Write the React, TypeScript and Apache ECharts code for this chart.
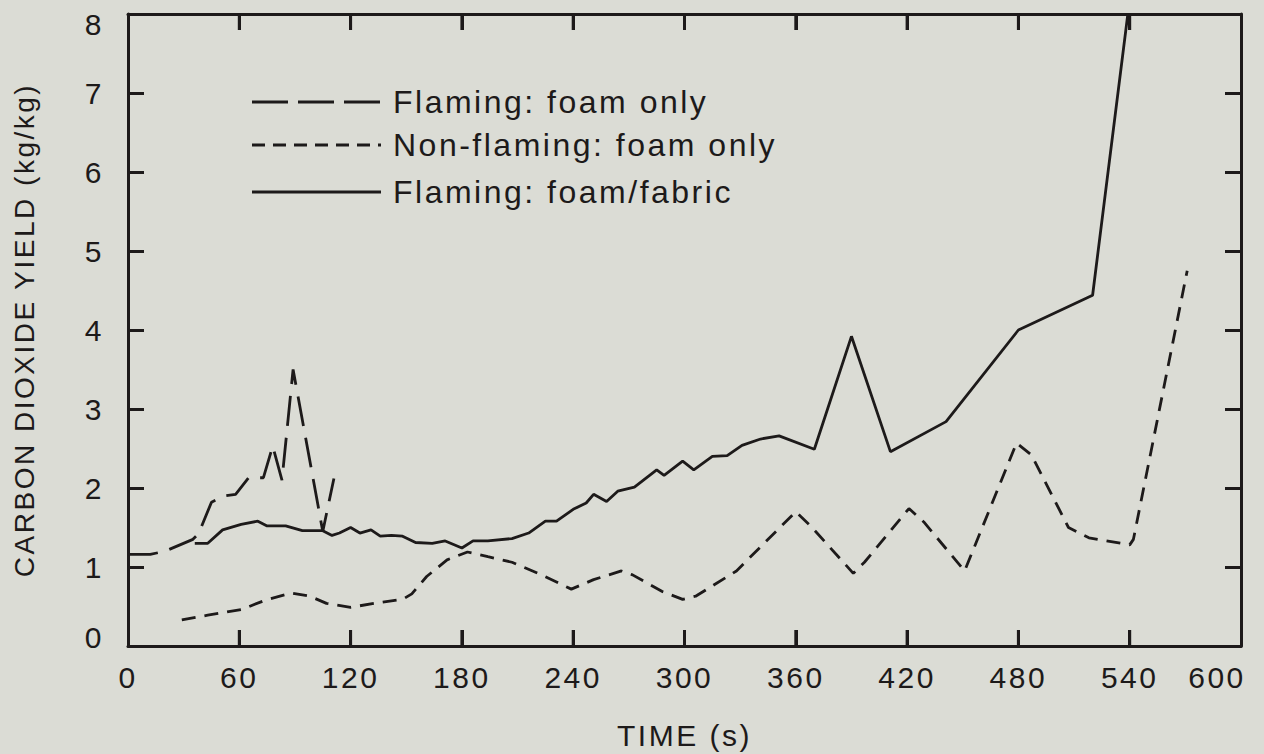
import React, { useEffect, useRef } from "react";
import * as echarts from "echarts";

const flamingFoamT = [0, 12, 20, 35, 38, 45, 52, 58, 65, 73, 78, 83, 89, 105, 111];
const flamingFoamV = [1.16, 1.16, 1.2, 1.35, 1.42, 1.82, 1.9, 1.92, 2.13, 2.13, 2.53, 2.1, 3.5, 1.45, 2.12];

const nonFlamingT = [29, 43, 61, 74, 88, 98, 107, 120, 133, 148, 153, 161, 172, 183, 194, 207, 223, 239, 251, 266, 272, 288, 299, 306, 328, 360, 368, 391, 397, 421, 429, 451, 479, 487, 507, 518, 540, 542, 571];
const nonFlamingV = [0.33, 0.39, 0.46, 0.58, 0.67, 0.63, 0.54, 0.49, 0.54, 0.59, 0.66, 0.88, 1.09, 1.19, 1.13, 1.06, 0.9, 0.72, 0.84, 0.95, 0.9, 0.69, 0.59, 0.63, 0.95, 1.7, 1.52, 0.92, 1.06, 1.74, 1.57, 0.95, 2.57, 2.42, 1.5, 1.37, 1.28, 1.35, 4.75];

const fabricT = [36, 43, 51, 61, 70, 75, 85, 94, 105, 110, 114, 120, 125, 131, 136, 142, 148, 155, 164, 171, 180, 186, 194, 207, 216, 225, 231, 240, 247, 251, 258, 264, 273, 285, 289, 299, 305, 315, 323, 331, 341, 351, 370, 390, 411, 441, 480, 520, 539];
const fabricV = [1.3, 1.3, 1.47, 1.54, 1.58, 1.52, 1.52, 1.46, 1.46, 1.4, 1.43, 1.5, 1.43, 1.47, 1.39, 1.4, 1.39, 1.31, 1.3, 1.33, 1.24, 1.33, 1.33, 1.36, 1.43, 1.58, 1.58, 1.73, 1.81, 1.92, 1.83, 1.96, 2.01, 2.23, 2.16, 2.34, 2.23, 2.4, 2.41, 2.54, 2.62, 2.66, 2.49, 3.92, 2.46, 2.84, 4.0, 4.44, 8.0];

const legendNames = ["Flaming: foam only", "Non-flaming: foam only", "Flaming: foam/fabric"];

const X_MIN = 0, X_MAX = 600, X_STEP = 60;
const Y_MIN = 0, Y_MAX = 8, Y_STEP = 1;
// inner x tick positions (s), drawn on both bottom and top frame edges
const xTickValues = [60, 120, 180, 240, 300, 360, 420, 480, 540];

const INK = "#1d1a1a";
const BG = "#dbdcd5";
const FONT = "'Liberation Sans', Arial, sans-serif";
const TICK_LEN = 16;

const zip = (t: number[], v: number[]) => t.map((x, i) => [x, v[i]]);

const mkTick = () => ({ show: true, inside: true, length: TICK_LEN, lineStyle: { color: INK, width: 3 } });
const mkLine = () => ({ show: true, onZero: false, lineStyle: { color: INK, width: 3 } });
const mkGrid = () => ({ left: 128, right: 23, top: 14, bottom: 108, outerBoundsMode: "none" });

export default function App() {
  const ref = useRef<HTMLDivElement>(null);
  useEffect(() => {
    if (!ref.current) return;
    const chart = echarts.init(ref.current, null, { renderer: "svg" });
    const labelBase = { fontSize: 30, fontFamily: FONT, color: INK };
    const legendY = [102, 145, 192];
    const dashes: any[] = [[36, 10], [13, 8], null];
    const graphics: any[] = [];
    legendNames.forEach((n, i) => {
      graphics.push({
        type: "line",
        shape: { x1: 252, y1: legendY[i], x2: 381, y2: legendY[i] },
        style: { stroke: INK, lineWidth: 2.8, lineDash: dashes[i] },
      });
      graphics.push({
        type: "text",
        x: 393,
        y: legendY[i],
        style: { text: n, fontSize: 32, fontFamily: FONT, fill: INK, verticalAlign: "middle" },
      });
    });
    chart.setOption({
      animation: false,
      grid: [mkGrid(), mkGrid()],
      xAxis: [
        {
          gridIndex: 0,
          type: "value",
          min: X_MIN,
          max: X_MAX,
          interval: X_STEP,
          position: "bottom",
          axisLine: mkLine(),
          axisTick: mkTick(),
          splitLine: { show: false },
          axisLabel: {
            ...labelBase,
            margin: 16,
            formatter: (v: number) => (v === 600 ? "{r|600}" : String(v)),
            rich: { r: { ...labelBase, padding: [0, 48, 0, 0] } },
          },
          name: "TIME (s)",
          nameLocation: "middle",
          nameGap: 74,
          nameTextStyle: { fontSize: 30, fontFamily: FONT, color: INK },
        },
        {
          gridIndex: 1,
          type: "value",
          min: X_MIN,
          max: X_MAX,
          interval: X_STEP,
          position: "top",
          axisLine: mkLine(),
          axisTick: mkTick(),
          axisLabel: { show: false },
          splitLine: { show: false },
        },
      ],
      yAxis: [
        {
          gridIndex: 0,
          type: "value",
          min: Y_MIN,
          max: Y_MAX,
          interval: Y_STEP,
          position: "left",
          axisLine: mkLine(),
          axisTick: mkTick(),
          splitLine: { show: false },
          axisLabel: {
            ...labelBase,
            margin: 24,
            formatter: (v: number) => (v === 8 ? "{a|8}" : v === 0 ? "{b|0}" : String(v)),
            rich: {
              a: { ...labelBase, padding: [20, 0, 0, 0] },
              b: { ...labelBase, padding: [0, 0, 18, 0] },
            },
          },
          name: "CARBON DIOXIDE YIELD (kg/kg)",
          nameLocation: "middle",
          nameRotate: 90,
          nameGap: 90,
          nameTextStyle: { fontSize: 28, fontFamily: FONT, color: INK },
        },
        {
          gridIndex: 1,
          type: "value",
          min: Y_MIN,
          max: Y_MAX,
          interval: Y_STEP,
          position: "right",
          axisLine: mkLine(),
          axisTick: mkTick(),
          axisLabel: { show: false },
          splitLine: { show: false },
        },
      ],
      series: [
        {
          name: legendNames[0],
          type: "line",
          xAxisIndex: 0,
          yAxisIndex: 0,
          data: zip(flamingFoamT, flamingFoamV),
          showSymbol: false,
          lineStyle: { color: INK, width: 2.8, type: [30, 12] },
        },
        {
          name: legendNames[1],
          type: "line",
          xAxisIndex: 0,
          yAxisIndex: 0,
          data: zip(nonFlamingT, nonFlamingV),
          showSymbol: false,
          lineStyle: { color: INK, width: 2.8, type: [14, 9] },
        },
        {
          name: legendNames[2],
          type: "line",
          xAxisIndex: 0,
          yAxisIndex: 0,
          data: zip(fabricT, fabricV),
          showSymbol: false,
          lineStyle: { color: INK, width: 2.8, type: "solid" },
        },
        {
          name: "frame ticks",
          type: "custom",
          xAxisIndex: 0,
          yAxisIndex: 0,
          silent: true,
          clip: false,
          z: 10,
          data: xTickValues.map((v) => [v, Y_MIN]),
          encode: { x: 0, y: 1 },
          renderItem: (params: any, api: any) => {
            const v = api.value(0);
            const b = api.coord([v, Y_MIN]);
            const t = api.coord([v, Y_MAX]);
            return {
              type: "group",
              children: [
                {
                  type: "rect",
                  shape: { x: b[0] - 1.5, y: b[1] - TICK_LEN, width: 3, height: TICK_LEN },
                  style: { fill: INK },
                },
                {
                  type: "rect",
                  shape: { x: t[0] - 1.5, y: t[1], width: 3, height: TICK_LEN },
                  style: { fill: INK },
                },
              ],
            };
          },
        },
      ],
      graphic: graphics,
    });
    return () => chart.dispose();
  }, []);
  return (
    <div
      ref={ref}
      style={{
        position: "fixed",
        left: 0,
        top: 0,
        width: 1264,
        height: 754,
        background: BG,
        letterSpacing: "2.5px",
      }}
    />
  );
}
